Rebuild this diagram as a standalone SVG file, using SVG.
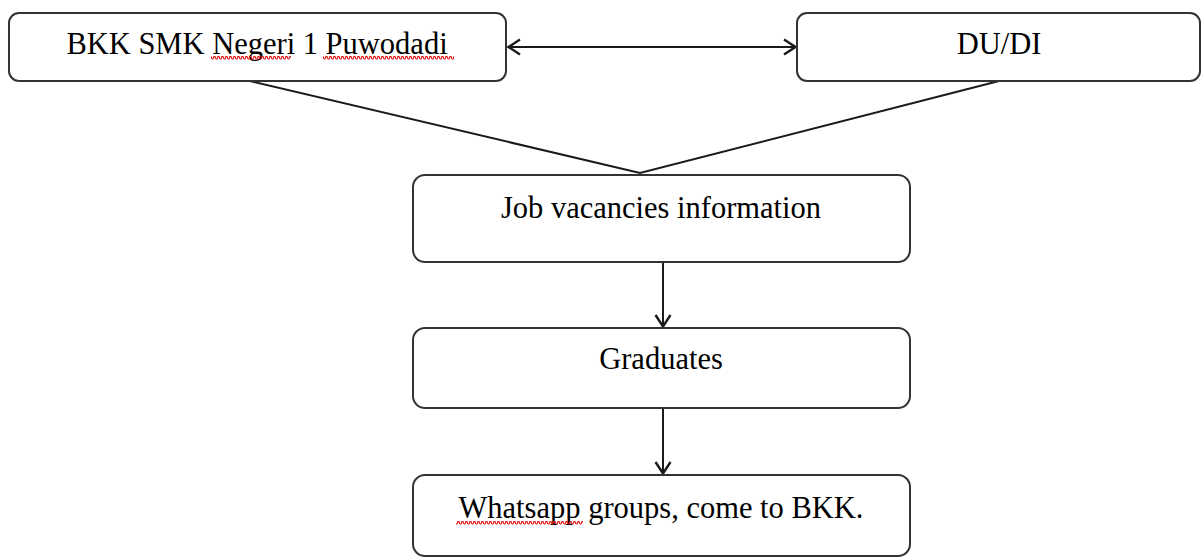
<svg xmlns="http://www.w3.org/2000/svg" width="1202" height="558" viewBox="0 0 1202 558">
  <style>
    .box { fill: #ffffff; stroke: #333333; stroke-width: 2; }
    .lbl { font-family: "Liberation Serif", "Times New Roman", serif; font-size: 30.5px; fill: #000000; text-anchor: middle; }
    .conn { fill: none; stroke: #1a1a1a; stroke-width: 2; }
  </style>
  <defs>
    <marker id="arr" viewBox="0 0 14 18" refX="13" refY="9" markerWidth="14" markerHeight="18" markerUnits="userSpaceOnUse" orient="auto-start-reverse">
      <path d="M1,1.5 L12.5,9 L1,16.5" fill="none" stroke="#1a1a1a" stroke-width="2.4"/>
    </marker>
    <pattern id="squig" x="0" y="0" width="4" height="5" patternUnits="userSpaceOnUse">
      <polyline points="0,4 1,4 2,1.5 3,1.5 4,4" fill="none" stroke="#e01818" stroke-width="1.2"/>
    </pattern>
  </defs>
  <rect width="1202" height="558" fill="#ffffff"/>

  <g id="connectors">
    <line class="conn" x1="508" y1="47" x2="796" y2="47" marker-start="url(#arr)" marker-end="url(#arr)"/>
    <polyline class="conn" points="250,81 640,173 999,81"/>
    <line class="conn" x1="663" y1="262" x2="663" y2="327" marker-end="url(#arr)"/>
    <line class="conn" x1="663" y1="408" x2="663" y2="474" marker-end="url(#arr)"/>
  </g>

  <g id="node-bkk">
    <rect class="box" x="9" y="13" width="497" height="68" rx="10"/>
    <text class="lbl" x="257" y="54">BKK SMK Negeri 1 Puwodadi</text>
    <rect x="211" y="56" width="80" height="5" fill="url(#squig)"/>
    <rect x="323" y="56" width="131" height="5" fill="url(#squig)"/>
  </g>

  <g id="node-dudi">
    <rect class="box" x="797" y="13" width="403" height="68" rx="10"/>
    <text class="lbl" x="999" y="54">DU/DI</text>
  </g>

  <g id="node-job">
    <rect class="box" x="413" y="175" width="497" height="87" rx="12"/>
    <text class="lbl" x="661" y="218">Job vacancies information</text>
  </g>

  <g id="node-graduates">
    <rect class="box" x="413" y="328" width="497" height="80" rx="12"/>
    <text class="lbl" x="661" y="369">Graduates</text>
  </g>

  <g id="node-whatsapp">
    <rect class="box" x="413" y="475" width="497" height="81" rx="12"/>
    <text class="lbl" x="661" y="518">Whatsapp groups, come to BKK.</text>
    <rect x="456" y="520" width="127" height="5" fill="url(#squig)"/>
  </g>
</svg>
